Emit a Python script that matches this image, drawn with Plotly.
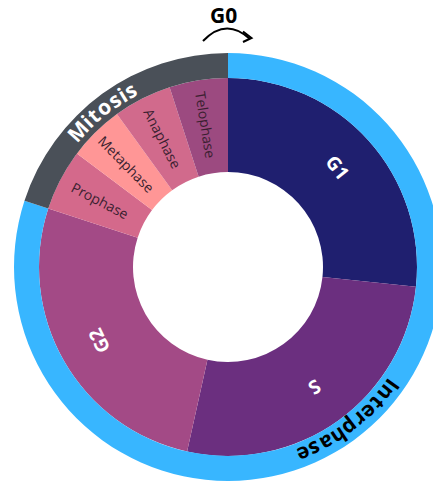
import math
import plotly.graph_objects as go

# ---- data ----
phases = ["G1", "S", "G2", "Prophase", "Metaphase", "Anaphase", "Telophase"]
phase_values = [96, 96.5, 95.5, 18.9, 17.1, 18, 18]
phase_colors = ["#1f1f6f", "#6b2f7f", "#a34a86", "#d4698b", "#ff9696", "#d16a8c", "#9c4a80"]
main_phases = ["G1", "S", "G2"]
stages = ["Interphase", "Mitosis"]
stage_members = [["G1", "S", "G2"], ["Prophase", "Metaphase", "Anaphase", "Telophase"]]
stage_colors = ["#38b6ff", "#4a5058"]
stage_label_center = [142, 321]  # degrees clockwise from 12 o'clock
top_label = "G0"

stage_values = [sum(v for p, v in zip(phases, phase_values) if p in m) for m in stage_members]

# ---- geometry (pixels) ----
W, H = 442, 482
CX, CY = 228, 267
R_HOLE, R_IN, R_OUT = 95, 189, 214


def dom(r):
    return dict(x=[(CX - r) / W, (CX + r) / W], y=[1 - (CY + r) / H, 1 - (CY - r) / H])


def pos(theta, r):
    t = math.radians(theta)
    return (CX + r * math.sin(t)) / W, 1 - (CY - r * math.cos(t)) / H


def norm(a):
    return ((a + 180) % 360) - 180


fig = go.Figure()
fig.add_trace(go.Pie(
    labels=phases, values=phase_values, hole=R_HOLE / R_IN, sort=False,
    direction="clockwise", rotation=0, domain=dom(R_IN), textinfo="none",
    marker=dict(colors=phase_colors, line=dict(width=0)), showlegend=False,
))
fig.add_trace(go.Pie(
    labels=stages, values=stage_values, hole=R_IN / R_OUT, sort=False,
    direction="clockwise", rotation=0, domain=dom(R_OUT), textinfo="none",
    marker=dict(colors=stage_colors, line=dict(width=0)), showlegend=False,
))

annotations = []
total = sum(phase_values)
cum = 0
for name, v in zip(phases, phase_values):
    mid = (cum + v / 2) / total * 360
    cum += v
    if name in main_phases:
        x, y = pos(mid, 148)
        annotations.append(dict(x=x, y=y, xref="paper", yref="paper", text=name, showarrow=False,
                                textangle=norm(mid + 4), xanchor="center", yanchor="middle",
                                font=dict(family="Open Sans", size=19, color="white", weight="bold")))
    else:
        x, y = pos(mid, 144)
        annotations.append(dict(x=x, y=y, xref="paper", yref="paper", text=name, showarrow=False,
                                textangle=norm(mid - 270), xanchor="center", yanchor="middle",
                                font=dict(family="Open Sans", size=14, color="#3b1f30")))

# curved ring text, one glyph at a time
CW = {"M": .894, "i": .286, "t": .431, "o": .619, "s": .497, "I": .33, "n": .641, "e": .579,
      "r": .456, "p": .635, "h": .641, "a": .593}
FS, LS, R_TXT = 21, 1.3, (R_IN + R_OUT) / 2 + 1
for text, centre in zip(stages, stage_label_center):
    widths = [CW.get(c, .6) * FS + LS for c in text]
    tot = sum(widths)
    acc = -tot / 2
    for c, w in zip(text, widths):
        ang = centre + math.degrees((acc + w / 2) / R_TXT)
        acc += w
        x, y = pos(ang, R_TXT)
        annotations.append(dict(x=x, y=y, xref="paper", yref="paper", text=c, showarrow=False,
                                textangle=norm(ang), xanchor="center", yanchor="middle",
                                font=dict(family="Open Sans", size=FS,
                                          color="white" if text == "Mitosis" else "black",
                                          weight="bold")))

annotations.append(dict(x=223 / W, y=1 - 15 / H, xref="paper", yref="paper", text=top_label,
                        showarrow=False, xanchor="center", yanchor="middle",
                        font=dict(family="Open Sans", size=21, color="black", weight="bold")))

shapes = [
    dict(type="path", xref="paper", yref="paper",
         path=f"M {203/W},{1-41/H} Q {226/W},{1-17/H} {250/W},{1-39/H}",
         line=dict(color="black", width=2)),
    dict(type="path", xref="paper", yref="paper",
         path=f"M {243/W},{1-31.5/H} L {251.5/W},{1-38/H} L {243/W},{1-42/H}",
         line=dict(color="black", width=2)),
]

fig.update_layout(width=W, height=H, margin=dict(l=0, r=0, t=0, b=0),
                  paper_bgcolor="white", plot_bgcolor="white",
                  annotations=annotations, shapes=shapes, showlegend=False)

fig.write_html("out.html", config={"displayModeBar": False},
               post_script="document.body.style.margin='0';document.body.style.overflow='hidden';")
